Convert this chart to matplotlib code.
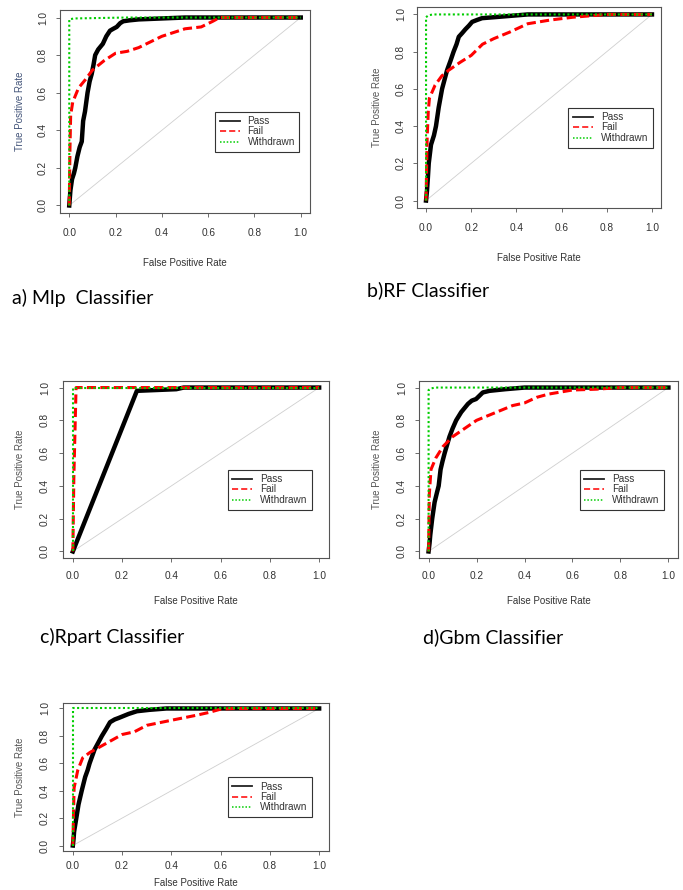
import matplotlib.pyplot as plt
from matplotlib.lines import Line2D

# ROC points (false positive rate, true positive rate)
mlp_pass_fpr = [0, 0.005, 0.012, 0.02, 0.026, 0.035, 0.045, 0.054, 0.06, 0.068, 0.079, 0.088, 0.097, 0.105, 0.112, 0.125, 0.145, 0.16, 0.176, 0.19, 0.205, 0.22, 0.233, 0.26, 0.3, 0.4, 0.5, 1.0]
mlp_pass_tpr = [0, 0.08, 0.14, 0.17, 0.2, 0.26, 0.31, 0.34, 0.45, 0.5, 0.6, 0.66, 0.7, 0.75, 0.8, 0.83, 0.86, 0.9, 0.93, 0.94, 0.95, 0.97, 0.98, 0.985, 0.99, 0.995, 1.0, 1.0]
mlp_fail_fpr = [0, 0.003, 0.006, 0.015, 0.04, 0.07, 0.1, 0.15, 0.2, 0.25, 0.3, 0.35, 0.4, 0.45, 0.5, 0.57, 0.62, 0.65, 1.0]
mlp_fail_tpr = [0, 0.3, 0.48, 0.55, 0.625, 0.67, 0.72, 0.77, 0.81, 0.82, 0.84, 0.87, 0.9, 0.92, 0.94, 0.95, 0.98, 1.0, 1.0]
mlp_wd_fpr = [0, 0, 0.02, 0.25, 1.0]
mlp_wd_tpr = [0, 0.99, 0.995, 1.0, 1.0]

rf_pass_fpr = [0, 0.004, 0.008, 0.012, 0.022, 0.035, 0.044, 0.056, 0.071, 0.082, 0.093, 0.108, 0.122, 0.135, 0.145, 0.16, 0.174, 0.19, 0.204, 0.225, 0.248, 0.3, 0.35, 0.45, 1.0]
rf_pass_tpr = [0, 0.05, 0.12, 0.2, 0.3, 0.35, 0.4, 0.5, 0.6, 0.65, 0.7, 0.75, 0.8, 0.84, 0.88, 0.9, 0.92, 0.94, 0.96, 0.97, 0.98, 0.985, 0.99, 1.0, 1.0]
rf_fail_fpr = [0, 0.005, 0.01, 0.015, 0.04, 0.07, 0.1, 0.15, 0.2, 0.25, 0.3, 0.37, 0.45, 0.55, 0.65, 0.8, 1.0]
rf_fail_tpr = [0, 0.34, 0.48, 0.55, 0.62, 0.67, 0.7, 0.742, 0.78, 0.84, 0.87, 0.905, 0.95, 0.97, 0.985, 1.0, 1.0]
rf_wd_fpr = [0, 0, 0.01, 0.03, 1.0]
rf_wd_tpr = [0, 0.985, 0.995, 1.0, 1.0]

rpart_pass_fpr = [0, 0.26, 0.42, 0.45, 1.0]
rpart_pass_tpr = [0, 0.98, 0.99, 1.0, 1.0]
rpart_fail_fpr = [0, 0.004, 0.013, 1.0]
rpart_fail_tpr = [0, 0.45, 1.0, 1.0]
rpart_wd_fpr = [0, 0, 1.0]
rpart_wd_tpr = [0, 1.0, 1.0]

gbm_pass_fpr = [0, 0.004, 0.007, 0.015, 0.025, 0.035, 0.042, 0.05, 0.058, 0.067, 0.087, 0.1, 0.115, 0.136, 0.164, 0.18, 0.198, 0.226, 0.254, 0.32, 0.4, 1.0]
gbm_pass_tpr = [0, 0.05, 0.1, 0.2, 0.3, 0.36, 0.4, 0.5, 0.55, 0.6, 0.7, 0.75, 0.8, 0.85, 0.9, 0.92, 0.93, 0.97, 0.98, 0.99, 1.0, 1.0]
gbm_fail_fpr = [0, 0.003, 0.01, 0.03, 0.06, 0.1, 0.15, 0.2, 0.25, 0.3, 0.35, 0.4, 0.45, 0.5, 0.6, 0.7, 0.8, 1.0]
gbm_fail_tpr = [0, 0.35, 0.5, 0.57, 0.64, 0.7, 0.75, 0.8, 0.83, 0.86, 0.89, 0.906, 0.94, 0.96, 0.985, 0.99, 1.0, 1.0]
gbm_wd_fpr = [0, 0, 0.01, 0.03, 1.0]
gbm_wd_tpr = [0, 0.985, 0.995, 1.0, 1.0]

other_pass_fpr = [0, 0.003, 0.005, 0.014, 0.023, 0.036, 0.05, 0.06, 0.068, 0.088, 0.1, 0.118, 0.135, 0.151, 0.17, 0.185, 0.226, 0.26, 0.31, 0.38, 1.0]
other_pass_tpr = [0, 0.05, 0.1, 0.2, 0.3, 0.4, 0.5, 0.55, 0.6, 0.7, 0.74, 0.8, 0.85, 0.9, 0.92, 0.93, 0.96, 0.98, 0.99, 1.0, 1.0]
other_fail_fpr = [0, 0.005, 0.02, 0.04, 0.07, 0.1, 0.15, 0.2, 0.25, 0.3, 0.4, 0.5, 0.55, 0.6, 0.65, 1.0]
other_fail_tpr = [0, 0.42, 0.55, 0.64, 0.68, 0.71, 0.76, 0.81, 0.83, 0.877, 0.914, 0.95, 0.97, 0.995, 1.0, 1.0]
other_wd_fpr = [0, 0, 1.0]
other_wd_tpr = [0, 1.0, 1.0]

ticks = [0.0, 0.2, 0.4, 0.6, 0.8, 1.0]
tick_labels = ["0.0", "0.2", "0.4", "0.6", "0.8", "1.0"]
legend_labels = ["Pass", "Fail", "Withdrawn"]
captions = ["a) Mlp  Classifier", "b)RF Classifier", "c)Rpart Classifier", "d)Gbm Classifier", ""]

curves = [
    (mlp_pass_fpr, mlp_pass_tpr, mlp_fail_fpr, mlp_fail_tpr, mlp_wd_fpr, mlp_wd_tpr),
    (rf_pass_fpr, rf_pass_tpr, rf_fail_fpr, rf_fail_tpr, rf_wd_fpr, rf_wd_tpr),
    (rpart_pass_fpr, rpart_pass_tpr, rpart_fail_fpr, rpart_fail_tpr, rpart_wd_fpr, rpart_wd_tpr),
    (gbm_pass_fpr, gbm_pass_tpr, gbm_fail_fpr, gbm_fail_tpr, gbm_wd_fpr, gbm_wd_tpr),
    (other_pass_fpr, other_pass_tpr, other_fail_fpr, other_fail_tpr, other_wd_fpr, other_wd_tpr),
]

W, H = 683, 890
# pixel boxes: left, top, right, bottom ; offsets for tick labels / axis labels
boxes = [(60, 10, 310, 213), (417, 7, 661, 208), (63, 381, 329, 558), (419, 381, 678, 558), (63, 703, 329, 851)]
xlab_off = [50, 50, 43, 43, 32]
ylab_off = [40, 40, 43, 42, 43]
xtick_pad = [11, 11, 9, 9, 6]
ytick_pad = [8, 7, 9, 8, 9]
caption_pos = [(12, 298), (367, 290), (40, 637), (423, 637), (0, 0)]
ylab_colors = ["#44557a", "#555555", "#555555", "#555555", "#555555"]

RED = "#ff0000"
GREEN = "#00cd00"

plt.rcParams['font.family'] = ['Liberation Sans', 'DejaVu Sans']
fig = plt.figure(figsize=(W / 100, H / 100), dpi=100)

for i, (x0, y0, x1, y1) in enumerate(boxes):
    ax = fig.add_axes([x0 / W, 1 - y1 / H, (x1 - x0) / W, (y1 - y0) / H])
    pf, pt, ff, ft, wf, wt = curves[i]
    ax.plot([0, 1], [0, 1], color="#cfcfcf", lw=0.6)
    ax.plot(pf, pt, color="black", lw=3.2, solid_joinstyle="round")
    ax.plot(ff, ft, color=RED, lw=2.2, dashes=(3, 1.4))
    ax.plot(wf, wt, color=GREEN, lw=1.5, dashes=(1, 1.2))

    ax.set_xlim(-0.04, 1.04)
    ax.set_ylim(-0.04, 1.04)
    ax.set_xticks(ticks)
    ax.set_xticklabels(tick_labels)
    ax.set_yticks(ticks)
    ax.set_yticklabels(tick_labels, rotation=90, va="center")
    ax.tick_params(axis="x", length=3, width=0.6, color="#555555", labelsize=7.3,
                   labelcolor="#333333", pad=xtick_pad[i] * 0.72)
    ax.tick_params(axis="y", length=3, width=0.6, color="#555555", labelsize=7.3,
                   labelcolor="#333333", pad=ytick_pad[i] * 0.72)
    for sp in ax.spines.values():
        sp.set_color("#555555")
        sp.set_linewidth(0.8)

    bw, bh = x1 - x0, y1 - y0
    ax.set_xlabel("False Positive Rate", fontsize=7, color="#333333")
    ax.set_ylabel("True Positive Rate", fontsize=7, color=ylab_colors[i])
    ax.xaxis.set_label_coords(0.5, -xlab_off[i] / bh)
    ax.xaxis.label.set_va("center")
    ax.yaxis.set_label_coords(-ylab_off[i] / bw, 0.5)
    ax.yaxis.label.set_va("center")

    handles = [Line2D([], [], color="#222222", lw=1.3),
               Line2D([], [], color=RED, lw=1.1, dashes=(4, 2)),
               Line2D([], [], color=GREEN, lw=1.1, dashes=(1, 1.2))]
    leg = ax.legend(handles, legend_labels, loc="upper left", bbox_to_anchor=(0.62, 0.5),
                    borderaxespad=0, fontsize=7.2, handlelength=2.0, handletextpad=0.8,
                    labelspacing=0.05, borderpad=0.45, fancybox=False, framealpha=1,
                    edgecolor="#333333")
    leg.get_frame().set_linewidth(0.8)
    for t in leg.get_texts():
        t.set_color("#333333")

    if captions[i]:
        cx, cy = caption_pos[i]
        fig.text(cx / W, 1 - cy / H, captions[i], fontsize=14, va="center", ha="left",
                 family=["Lato", "DejaVu Sans"], color="black")

fig.savefig("out.png", dpi=100)
